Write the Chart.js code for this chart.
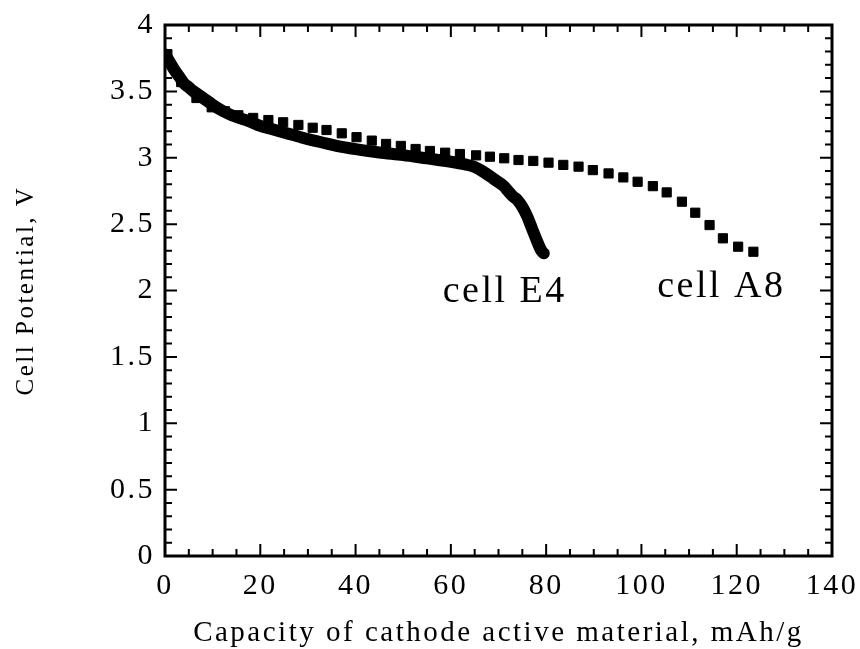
<!DOCTYPE html>
<html>
<head>
<meta charset="utf-8">
<script src="https://cdn.jsdelivr.net/npm/chart.js@4"></script>
<style>
  html, body { margin: 0; padding: 0; background: #fff; }
  #wrap { width: 860px; height: 649px; }
</style>
</head>
<body>
<div id="wrap"><canvas id="chart" width="860" height="649"></canvas></div>
<script>
// cell E4 (solid thick curve)
const e4Capacity = [0, 1, 2, 3, 4, 5, 6, 8, 10, 12, 14, 16, 18, 20, 22, 24, 26, 28, 30, 33, 36, 40, 45, 50, 55, 60, 63, 65, 67, 69, 71, 72, 73, 74, 75, 76, 77, 78, 79, 79.5];
const e4Voltage  = [3.78, 3.72, 3.66, 3.61, 3.56, 3.53, 3.50, 3.45, 3.40, 3.355, 3.32, 3.295, 3.27, 3.24, 3.22, 3.20, 3.18, 3.16, 3.14, 3.115, 3.09, 3.065, 3.04, 3.02, 2.995, 2.97, 2.95, 2.93, 2.89, 2.84, 2.79, 2.75, 2.71, 2.68, 2.63, 2.56, 2.47, 2.38, 2.30, 2.28];

// cell A8 (square markers)
const a8Capacity = [0.5, 3.4, 6.6, 9.8, 12.6, 15.4, 18.5, 21.7, 24.8, 28.0, 31.0, 33.9, 37.1, 40.2, 43.4, 46.4, 49.5, 52.6, 55.6, 58.8, 61.9, 65.3, 68.2, 71.2, 74.2, 77.3, 80.5, 83.6, 86.8, 89.8, 93.1, 96.2, 99.2, 102.4, 105.3, 108.5, 111.3, 114.3, 117.1, 120.3, 123.5];
const a8Voltage  = [3.78, 3.57, 3.45, 3.38, 3.35, 3.32, 3.30, 3.284, 3.267, 3.247, 3.226, 3.209, 3.184, 3.155, 3.129, 3.104, 3.089, 3.066, 3.051, 3.038, 3.028, 3.018, 3.008, 2.996, 2.983, 2.976, 2.963, 2.946, 2.933, 2.907, 2.882, 2.852, 2.819, 2.786, 2.739, 2.669, 2.586, 2.493, 2.393, 2.330, 2.292];

// axes
const xMin = 0, xMax = 140, xMajor = 20, xMinor = 5;
const yMin = 0, yMax = 4, yMajor = 0.5, yMinor = 0.1;

// curve labels, anchored in data units
const curveLabels = ['cell E4', 'cell A8'];
const curveLabelX = [58.3, 103.3];
const curveLabelY = [1.91, 1.95];

const SERIF = '"Liberation Serif", "Times New Roman", serif';
const toPts = (xs, ys) => xs.map((x, i) => ({ x, y: ys[i] }));
const isMultiple = (v, step) => Math.abs(v / step - Math.round(v / step)) < 1e-6;

// letter spacing to mimic the wide typesetting of the original
const spacing = {
  id: 'spacing',
  beforeUpdate(chart) { chart.ctx.letterSpacing = '2.5px'; },
  beforeDraw(chart) { chart.ctx.letterSpacing = '2.5px'; }
};

// frame with inward ticks on all four sides + curve labels
const frame = {
  id: 'frame',
  afterDraw(chart) {
    const { ctx, chartArea: a, scales: { x, y } } = chart;
    ctx.save();
    ctx.strokeStyle = '#000';
    ctx.lineWidth = 2;
    ctx.beginPath();
    x.ticks.forEach(t => {
      const px = x.getPixelForValue(t.value);
      const len = isMultiple(t.value, xMajor) ? 12 : 7;
      ctx.moveTo(px, a.bottom); ctx.lineTo(px, a.bottom - len);
      ctx.moveTo(px, a.top); ctx.lineTo(px, a.top + len);
    });
    y.ticks.forEach(t => {
      const py = y.getPixelForValue(t.value);
      const len = isMultiple(t.value, yMajor) ? 12 : 7;
      ctx.moveTo(a.left, py); ctx.lineTo(a.left + len, py);
      ctx.moveTo(a.right, py); ctx.lineTo(a.right - len, py);
    });
    ctx.stroke();
    ctx.lineWidth = 3;
    ctx.strokeRect(a.left, a.top, a.right - a.left, a.bottom - a.top);

    ctx.fillStyle = '#000';
    ctx.font = '38px ' + SERIF;
    ctx.textAlign = 'left';
    ctx.textBaseline = 'alphabetic';
    curveLabels.forEach((txt, i) => {
      ctx.fillText(txt, x.getPixelForValue(curveLabelX[i]), y.getPixelForValue(curveLabelY[i]));
    });
    ctx.restore();
  }
};

new Chart(document.getElementById('chart'), {
  type: 'scatter',
  data: {
    datasets: [
      {
        label: 'cell E4',
        data: toPts(e4Capacity, e4Voltage),
        showLine: true,
        borderColor: '#000',
        borderWidth: 12,
        borderCapStyle: 'round',
        borderJoinStyle: 'round',
        cubicInterpolationMode: 'monotone',
        pointRadius: 0,
        pointHoverRadius: 0
      },
      {
        label: 'cell A8',
        data: toPts(a8Capacity, a8Voltage),
        showLine: false,
        pointStyle: 'rect',
        pointRadius: 6.5,
        pointBorderWidth: 1,
        pointBackgroundColor: '#000',
        pointBorderColor: '#000'
      }
    ]
  },
  options: {
    responsive: false,
    animation: false,
    events: [],
    layout: { padding: { top: 25, right: 28, left: 0, bottom: 0 } },
    plugins: { legend: { display: false }, tooltip: { enabled: false } },
    scales: {
      x: {
        type: 'linear',
        min: xMin, max: xMax,
        grid: { display: false, drawTicks: false },
        border: { display: false },
        ticks: {
          stepSize: xMinor,
          autoSkip: false,
          maxRotation: 0,
          padding: 12,
          color: '#000',
          font: { family: SERIF, size: 30 },
          callback: v => isMultiple(v, xMajor) ? String(v) : ''
        },
        title: {
          display: true,
          text: 'Capacity of cathode active material, mAh/g',
          color: '#000',
          font: { family: SERIF, size: 29, lineHeight: 1 },
          padding: { top: 0, bottom: 1 }
        },
        afterFit: s => { s.height = 93; s.paddingLeft = 0; s.paddingRight = 0; }
      },
      y: {
        type: 'linear',
        min: yMin, max: yMax,
        grid: { display: false, drawTicks: false },
        border: { display: false },
        ticks: {
          stepSize: yMinor,
          autoSkip: false,
          padding: 10,
          color: '#000',
          font: { family: SERIF, size: 30 },
          callback: v => isMultiple(v, yMajor) ? String(Math.round(v * 10) / 10) : ''
        },
        title: {
          display: true,
          text: 'Cell Potential, V',
          color: '#000',
          font: { family: SERIF, size: 25, lineHeight: 1 },
          padding: { top: 14, bottom: 0 }
        },
        afterFit: s => { s.width = 165; s.paddingTop = 0; s.paddingBottom = 0; }
      }
    }
  },
  plugins: [spacing, frame]
});
</script>
</body>
</html>
